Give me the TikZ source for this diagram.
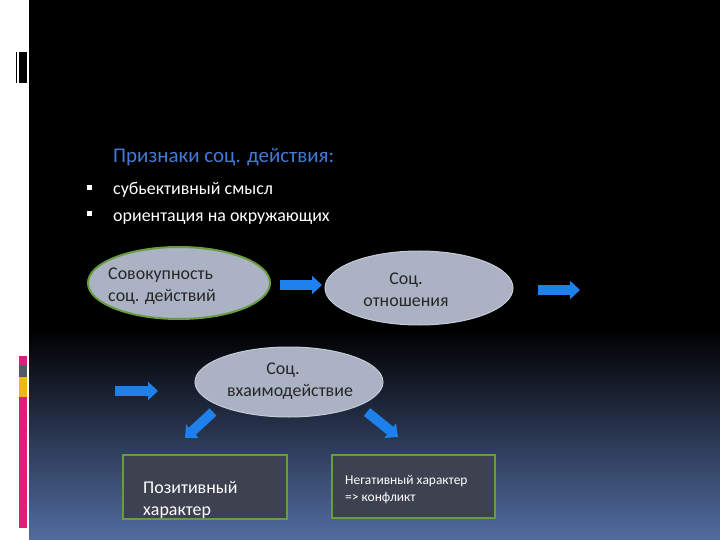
\documentclass[tikz,border=0pt]{standalone}
\usepackage{fontspec}
\setmainfont{Carlito}
\usetikzlibrary{shapes.geometric,arrows.meta}

\definecolor{slidebottom}{RGB}{82,108,160}
\definecolor{bubblefill}{RGB}{170,178,196}
\definecolor{bubbleline}{RGB}{196,202,214}
\definecolor{leafgreen}{RGB}{104,156,64}
\definecolor{boxfill}{RGB}{62,66,80}
\definecolor{arrowblue}{RGB}{30,128,234}
\definecolor{titleblue}{RGB}{66,122,214}
\definecolor{barpink}{RGB}{222,30,122}
\definecolor{bargray}{RGB}{82,90,102}
\definecolor{baryellow}{RGB}{242,182,22}

\begin{document}
\begin{tikzpicture}[x=1bp, y=-1bp,
    bubble/.style={ellipse, fill=bubblefill, draw=bubbleline, line width=1bp, inner sep=0pt},
    rim/.style={draw=leafgreen, line width=2bp},
    box/.style={rectangle, fill=boxfill, draw=leafgreen, line width=2bp, inner sep=0pt},
    blockarrow/.style={draw=arrowblue, line width=10bp, -{Triangle[length=10bp, width=18bp]}},
    bubbletext/.style={font=\fontsize{18}{22}\selectfont, text=black!85, inner sep=0pt},
    slidetext/.style={font=\fontsize{18}{22}\selectfont, text=white, inner sep=0pt, anchor=base west},
    dot/.style={fill=white, minimum size=5bp, inner sep=0pt}]
    \useasboundingbox (0,0) rectangle (720,540);

    % Background
    \fill[white] (0,0) rectangle (720,540);
    \fill[black] (29,0) rectangle (720,330);
    \shade[top color=black, bottom color=slidebottom] (29,330) rectangle (720,540);

    % Left strip
    \fill[black] (16,52) rectangle (27,83);
    \fill[white] (17.3,52) rectangle (18.7,83);
    \fill[barpink] (19,356) rectangle (27,365);
    \fill[bargray] (19,365) rectangle (27,376.5);
    \fill[baryellow] (19,377) rectangle (27,397);
    \fill[barpink] (19,397) rectangle (27,528);

    % Heading and bullets (multi-line nodes sit on their last baseline)
    \node[slidetext, text=titleblue, font=\fontsize{21}{25}\selectfont] (title) at (113,163)
        {Признаки соц. действия:};
    \node[dot] (dot1) at (89.2,187.5) {};
    \node[dot] (dot2) at (89.2,213.8) {};
    \node[slidetext] (item1) at (113,195) {субьективный смысл};
    \node[slidetext] (item2) at (113,221.7) {ориентация на окружающих};

    % Ellipses
    \node[bubble, rim, minimum width=182bp, minimum height=72bp] (sum) at (179,283) {};
    \node[bubbletext, anchor=base west, align=left] (sumtxt) at (108,301.7)
        {Совокупность\\соц. действий};
    \node[bubble, minimum width=188bp, minimum height=74bp] (rel) at (419,288) {};
    \node[bubbletext, anchor=base, align=center] (reltxt) at (406,306)
        {Соц.\\отношения};
    \node[bubble, minimum width=188bp, minimum height=70bp] (inter) at (289,382) {};
    \node[bubbletext, anchor=base, align=center] (intertxt) at (290,396)
        {\hspace*{-14bp}Соц.\\вхаимодействие};

    % Boxes
    \node[box, minimum width=164bp, minimum height=64bp] (pos) at (205,487) {};
    \node[slidetext, align=left] (postxt) at (143,515) {Позитивный\\характер};
    \node[box, minimum width=163bp, minimum height=63bp] (neg) at (413.5,486.5) {};
    \node[slidetext, align=left, font=\fontsize{13.5}{17}\selectfont] (negtxt) at (345,501)
        {Негативный характер\\=> конфликт};

    % Block arrows
    \coordinate (a1) at (280,285);  \coordinate (b1) at (322,285);
    \coordinate (a2) at (538,290);  \coordinate (b2) at (580,290);
    \coordinate (a3) at (115,391);  \coordinate (b3) at (158,391);
    \coordinate (a4) at (213,412);  \coordinate (b4) at (185,438);
    \coordinate (a5) at (367,412);  \coordinate (b5) at (398,437);
    \draw[blockarrow] (a1) -- (b1);
    \draw[blockarrow] (a2) -- (b2);
    \draw[blockarrow] (a3) -- (b3);
    \draw[blockarrow] (a4) -- (b4);
    \draw[blockarrow] (a5) -- (b5);
\end{tikzpicture}
\end{document}
